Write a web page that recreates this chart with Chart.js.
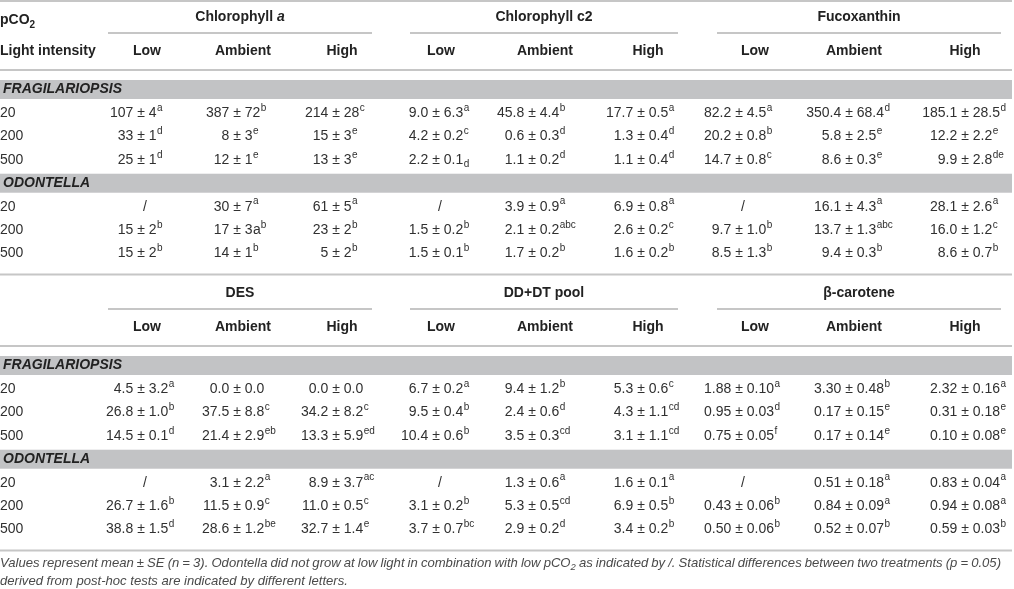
<!DOCTYPE html>
<html>
<head>
<meta charset="utf-8">
<script src="https://cdn.jsdelivr.net/npm/chart.js@4.4.1/dist/chart.umd.min.js"></script>
<style>
  html, body { margin: 0; padding: 0; background: #fff; }
  canvas { display: block; }
</style>
</head>
<body>
<canvas id="tabla" width="1014" height="589"></canvas>
<script>
// DATOS DE LA TABLA (media, error estandar y letras de cada pigmento)
// filas: FRAGILARIOPSIS 20/200/500, ODONTELLA 20/200/500 ; columnas: Low, Ambient, High

const species = ['FRAGILARIOPSIS', 'ODONTELLA'];
const pco2Levels = ['20', '200', '500'];
const lightLevels = ['Low', 'Ambient', 'High'];
const pigments = ['Chlorophyll a', 'Chlorophyll c2', 'Fucoxanthin', 'DES', 'DD+DT pool', 'β-carotene'];
const decimals = [0, 1, 1, 1, 1, 2];

const chlA_mean = [[107, 387, 214], [33, 8, 15], [25, 12, 13], [null, 30, 61], [15, 17, 23], [15, 14, 5]];
const chlA_se   = [[4, 72, 28], [1, 3, 3], [1, 1, 3], [null, 7, 5], [2, 3, 2], [2, 1, 2]];
const chlA_let  = [['a', 'b', 'c'], ['d', 'e', 'e'], ['d', 'e', 'e'], [null, 'a', 'a'], ['b', 'a|b', 'b'], ['b', 'b', 'b']];

const chlC2_mean = [[9.0, 45.8, 17.7], [4.2, 0.6, 1.3], [2.2, 1.1, 1.1], [null, 3.9, 6.9], [1.5, 2.1, 2.6], [1.5, 1.7, 1.6]];
const chlC2_se   = [[6.3, 4.4, 0.5], [0.2, 0.3, 0.4], [0.1, 0.2, 0.4], [null, 0.9, 0.8], [0.2, 0.2, 0.2], [0.1, 0.2, 0.2]];
const chlC2_let  = [['a', 'b', 'a'], ['c', 'd', 'd'], ['_d', 'd', 'd'], [null, 'a', 'a'], ['b', 'abc', 'c'], ['b', 'b', 'b']];

const fuco_mean = [[82.2, 350.4, 185.1], [20.2, 5.8, 12.2], [14.7, 8.6, 9.9], [null, 16.1, 28.1], [9.7, 13.7, 16.0], [8.5, 9.4, 8.6]];
const fuco_se   = [[4.5, 68.4, 28.5], [0.8, 2.5, 2.2], [0.8, 0.3, 2.8], [null, 4.3, 2.6], [1.0, 1.3, 1.2], [1.3, 0.3, 0.7]];
const fuco_let  = [['a', 'd', 'd'], ['b', 'e', 'e'], ['c', 'e', 'de'], [null, 'a', 'a'], ['b', 'abc', 'c'], ['b', 'b', 'b']];

const des_mean = [[4.5, 0.0, 0.0], [26.8, 37.5, 34.2], [14.5, 21.4, 13.3], [null, 3.1, 8.9], [26.7, 11.5, 11.0], [38.8, 28.6, 32.7]];
const des_se   = [[3.2, 0.0, 0.0], [1.0, 8.8, 8.2], [0.1, 2.9, 5.9], [null, 2.2, 3.7], [1.6, 0.9, 0.5], [1.5, 1.2, 1.4]];
const des_let  = [['a', '', ''], ['b', 'c', 'c'], ['d', 'eb', 'ed'], [null, 'a', 'ac'], ['b', 'c', 'c'], ['d', 'be', 'e']];

const dddt_mean = [[6.7, 9.4, 5.3], [9.5, 2.4, 4.3], [10.4, 3.5, 3.1], [null, 1.3, 1.6], [3.1, 5.3, 6.9], [3.7, 2.9, 3.4]];
const dddt_se   = [[0.2, 1.2, 0.6], [0.4, 0.6, 1.1], [0.6, 0.3, 1.1], [null, 0.6, 0.1], [0.2, 0.5, 0.5], [0.7, 0.2, 0.2]];
const dddt_let  = [['a', 'b', 'c'], ['b', 'd', 'cd'], ['b', 'cd', 'cd'], [null, 'a', 'a'], ['b', 'cd', 'b'], ['bc', 'd', 'b']];

const bcar_mean = [[1.88, 3.30, 2.32], [0.95, 0.17, 0.31], [0.75, 0.17, 0.10], [null, 0.51, 0.83], [0.43, 0.84, 0.94], [0.50, 0.52, 0.59]];
const bcar_se   = [[0.10, 0.48, 0.16], [0.03, 0.15, 0.18], [0.05, 0.14, 0.08], [null, 0.18, 0.04], [0.06, 0.09, 0.08], [0.06, 0.07, 0.03]];
const bcar_let  = [['a', 'b', 'a'], ['d', 'e', 'e'], ['f', 'e', 'e'], [null, 'a', 'a'], ['b', 'a', 'a'], ['b', 'b', 'b']];

const footnote1 = 'Values represent mean ± SE (n = 3). Odontella did not grow at low light in combination with low pCO2 as indicated by /. Statistical differences between two treatments (p = 0.05)';
const footnote2 = 'derived from post-hoc tests are indicated by different letters.';

// ------------------------------------------------------------------
// disposicion (en pixeles del lienzo, ejes ocultos 1:1)
const W = 1014, H = 589;
const FAMILY = 'Helvetica, Arial, "Liberation Sans", sans-serif';
const TEXT = '#303030';
const LINE = '#c6c6c6';
const BAND = '#c2c3c5';

const pmX = [141, 237, 336, 436, 532, 641, 739, 849, 965];      // posicion del ± en cada columna
const headX = [147, 243, 342, 441, 545, 648, 755, 854, 965];    // centro de Low/Ambient/High
const groupLine = [[108, 372], [410, 678], [717, 1001]];
const sectionShift = 276;
const bandY0 = 89.5, rowStep = 23.43;

const blocks = [
  [chlA_mean, chlA_se, chlA_let], [chlC2_mean, chlC2_se, chlC2_let], [fuco_mean, fuco_se, fuco_let],
  [des_mean, des_se, des_let], [dddt_mean, dddt_se, dddt_let], [bcar_mean, bcar_se, bcar_let]
];

function rowY(section, slot) { return section * sectionShift + bandY0 + slot * rowStep; }

// un dataset por pigmento, cada punto es una celda
const datasets = blocks.map(function (b, p) {
  const section = Math.floor(p / 3), g = p % 3;
  const pts = [];
  for (let r = 0; r < 6; r++) {
    const sp = Math.floor(r / 3), lvl = r % 3;
    for (let c = 0; c < 3; c++) {
      pts.push({ x: pmX[g * 3 + c], y: rowY(section, sp * 4 + lvl + 1), mean: b[0][r][c], se: b[1][r][c], lt: b[2][r][c], dec: decimals[p] });
    }
  }
  return { label: pigments[p], data: pts, pointRadius: 0, pointHoverRadius: 0 };
});

function font(size, weight, style) { return (style || '') + ' ' + (weight || '') + ' ' + size + 'px ' + FAMILY; }

function drawLetters(ctx, lt, x, y) {
  if (!lt) return;
  let inline = '', sup = lt, sub = '';
  if (lt[0] === '_') { sub = lt.slice(1); sup = ''; }
  else if (lt.indexOf('|') >= 0) { inline = lt.split('|')[0]; sup = lt.split('|')[1]; }
  ctx.textAlign = 'left';
  if (inline) { ctx.font = font(14); ctx.fillText(inline, x, y); x += ctx.measureText(inline).width; }
  ctx.font = font(10);
  if (sup) ctx.fillText(sup, x, y - 5);
  if (sub) ctx.fillText(sub, x, y + 4);
}

function drawCell(ctx, pt, d) {
  ctx.fillStyle = TEXT;
  ctx.font = font(14);
  ctx.textBaseline = 'middle';
  if (d.mean === null) { ctx.textAlign = 'center'; ctx.fillText('/', pt.x + 4, pt.y); return; }
  const pmW = ctx.measureText('±').width, sp = ctx.measureText(' ').width;
  const s = d.se.toFixed(d.dec);
  ctx.textAlign = 'center'; ctx.fillText('±', pt.x, pt.y);
  ctx.textAlign = 'right'; ctx.fillText(d.mean.toFixed(d.dec), pt.x - pmW / 2 - sp, pt.y);
  ctx.textAlign = 'left';
  const sx = pt.x + pmW / 2 + sp;
  ctx.fillText(s, sx, pt.y);
  drawLetters(ctx, d.lt, sx + ctx.measureText(s).width + 0.5, pt.y);
}

function hline(ctx, xs, x1, x2, y) {
  ctx.beginPath();
  ctx.moveTo(xs.getPixelForValue(x1), y);
  ctx.lineTo(xs.getPixelForValue(x2), y);
  ctx.stroke();
}

const FOOT = 13.1;
function justify(ctx, words, x0, x1, y) {
  // words: strings, 'pCO2' lleva subindice
  const widths = words.map(function (w) {
    if (w === 'pCO2') { ctx.font = font(FOOT, '', 'italic'); const a = ctx.measureText('pCO').width; ctx.font = font(9.5, '', 'italic'); return a + ctx.measureText('2').width; }
    ctx.font = font(FOOT, '', 'italic'); return ctx.measureText(w).width;
  });
  const total = widths.reduce(function (a, b) { return a + b; }, 0);
  const gap = x1 ? (x1 - x0 - total) / (words.length - 1) : null;
  let x = x0;
  ctx.textAlign = 'left';
  words.forEach(function (w, i) {
    ctx.font = font(FOOT, '', 'italic');
    if (w === 'pCO2') {
      ctx.fillText('pCO', x, y);
      const a = ctx.measureText('pCO').width;
      ctx.font = font(9.5, '', 'italic');
      ctx.fillText('2', x + a, y + 4);
    } else ctx.fillText(w, x, y);
    ctx.font = font(FOOT, '', 'italic');
    x += widths[i] + (gap !== null ? gap : ctx.measureText(' ').width);
  });
}

const tablePlugin = {
  id: 'tabla',
  beforeDatasetsDraw(chart) {
    const ctx = chart.ctx, xs = chart.scales.x, ys = chart.scales.y;
    ctx.save();
    // bandas grises de especie
    for (let s = 0; s < 2; s++) {
      for (let k = 0; k < 2; k++) {
        const yc = ys.getPixelForValue(rowY(s, k * 4));
        ctx.fillStyle = BAND;
        ctx.fillRect(xs.getPixelForValue(0), yc - 9.5, xs.getPixelForValue(1012), 19);
      }
    }
    ctx.strokeStyle = LINE; ctx.lineWidth = 2;
    hline(ctx, xs, 0, 1012, ys.getPixelForValue(1));
    for (let s = 0; s < 2; s++) {
      const o = s * sectionShift;
      groupLine.forEach(function (g) { hline(ctx, xs, g[0], g[1], ys.getPixelForValue(o + 33)); });
      hline(ctx, xs, 0, 1012, ys.getPixelForValue(o + 70));
      hline(ctx, xs, 0, 1012, ys.getPixelForValue(rowY(s, 7) + 21));
    }
    ctx.restore();
  },
  afterDatasetsDraw(chart) {
    const ctx = chart.ctx, xs = chart.scales.x, ys = chart.scales.y;
    ctx.save();
    ctx.textBaseline = 'middle';
    // cabeceras
    for (let s = 0; s < 2; s++) {
      const o = s * sectionShift;
      ctx.fillStyle = '#222';
      for (let g = 0; g < 3; g++) {
        const name = pigments[s * 3 + g];
        const cx = xs.getPixelForValue((groupLine[g][0] + groupLine[g][1]) / 2);
        const gy = ys.getPixelForValue(o + 17);
        if (name === 'Chlorophyll a') {
          ctx.font = font(14, 'bold');
          const a = ctx.measureText('Chlorophyll ').width;
          ctx.font = font(14, 'bold', 'italic');
          const b = ctx.measureText('a').width;
          ctx.textAlign = 'left';
          ctx.font = font(14, 'bold'); ctx.fillText('Chlorophyll ', cx - (a + b) / 2, gy);
          ctx.font = font(14, 'bold', 'italic'); ctx.fillText('a', cx - (a + b) / 2 + a, gy);
        } else {
          ctx.font = font(14, 'bold'); ctx.textAlign = 'center'; ctx.fillText(name, cx, gy);
        }
        ctx.font = font(14, 'bold'); ctx.textAlign = 'center';
        for (let c = 0; c < 3; c++) ctx.fillText(lightLevels[c], xs.getPixelForValue(headX[g * 3 + c]), ys.getPixelForValue(o + 51));
      }
      // bandas y niveles de pCO2
      for (let k = 0; k < 2; k++) {
        ctx.font = font(14, 'bold', 'italic'); ctx.textAlign = 'left'; ctx.fillStyle = '#222';
        ctx.fillText(species[k], xs.getPixelForValue(3), ys.getPixelForValue(rowY(s, k * 4)));
        ctx.font = font(14); ctx.fillStyle = TEXT;
        for (let r = 0; r < 3; r++) ctx.fillText(pco2Levels[r], xs.getPixelForValue(0), ys.getPixelForValue(rowY(s, k * 4 + r + 1)));
      }
    }
    ctx.fillStyle = '#222'; ctx.textAlign = 'left';
    ctx.font = font(14, 'bold'); ctx.fillText('pCO', 0, ys.getPixelForValue(20));
    const w = ctx.measureText('pCO').width;
    ctx.font = font(10, 'bold'); ctx.fillText('2', w, ys.getPixelForValue(25));
    ctx.font = font(14, 'bold'); ctx.fillText('Light intensity', 0, ys.getPixelForValue(51));

    // celdas
    chart.data.datasets.forEach(function (ds, i) {
      chart.getDatasetMeta(i).data.forEach(function (pt, j) { drawCell(ctx, pt, ds.data[j]); });
    });

    // nota al pie
    ctx.fillStyle = '#4a4a4a';
    justify(ctx, footnote1.split(' '), 0, 1001, ys.getPixelForValue(563));
    justify(ctx, footnote2.split(' '), 0, null, ys.getPixelForValue(581));
    ctx.restore();
  }
};

const ctx = document.getElementById('tabla').getContext('2d');
new Chart(ctx, {
  type: 'scatter',
  data: { datasets: datasets },
  options: {
    responsive: false,
    animation: false,
    events: [],
    layout: { padding: 0 },
    plugins: { legend: { display: false }, tooltip: { enabled: false } },
    scales: {
      x: { type: 'linear', display: false, min: 0, max: W },
      y: { type: 'linear', display: false, min: 0, max: H, reverse: true }
    }
  },
  plugins: [tablePlugin]
});
</script>
</body>
</html>
